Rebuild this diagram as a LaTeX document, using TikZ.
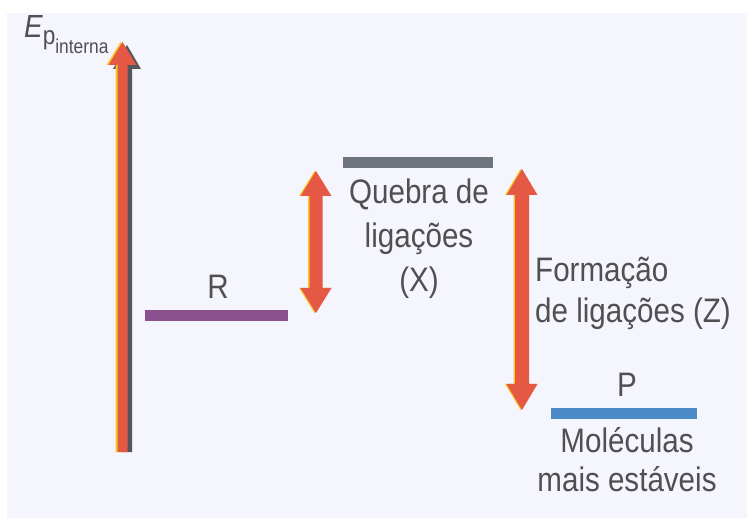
\documentclass[tikz,border=0pt]{standalone}
\usepackage{fontspec}
\setmainfont{Liberation Sans}[FakeStretch=0.87]
\definecolor{panel}{RGB}{245,245,253}
\definecolor{ared}{RGB}{228,88,68}
\definecolor{ayellow}{RGB}{246,200,40}
\definecolor{ashadow}{RGB}{85,85,90}
\definecolor{lvlR}{RGB}{140,80,142}
\definecolor{lvlX}{RGB}{110,116,126}
\definecolor{lvlP}{RGB}{75,140,200}
\definecolor{textgray}{RGB}{80,80,82}
% double vertical arrow: colour, x centre, y top tip, y bottom tip, half shaft, half head, head length
\newcommand\DArrow[7]{%
  \fill[#1] (#2,#3) -- ({#2+#6},{#3+#7}) -- ({#2+#5},{#3+#7}) -- ({#2+#5},{#4-#7})
    -- ({#2+#6},{#4-#7}) -- (#2,#4) -- ({#2-#6},{#4-#7}) -- ({#2-#5},{#4-#7})
    -- ({#2-#5},{#3+#7}) -- ({#2-#6},{#3+#7}) -- cycle;}
% upward arrow: colour, x centre, y tip, y bottom, half shaft, half head, head length
\newcommand\UArrow[7]{%
  \fill[#1] (#2,#3) -- ({#2+#6},{#3+#7}) -- ({#2+#5},{#3+#7}) -- ({#2+#5},#4)
    -- ({#2-#5},#4) -- ({#2-#5},{#3+#7}) -- ({#2-#6},{#3+#7}) -- cycle;}
\begin{document}
\begin{tikzpicture}[x=1pt,y=-1pt,
  txt/.style={inner sep=0pt, text=textgray, font=\fontsize{34}{40}\selectfont},
  level/.style={line width=11pt}]
\useasboundingbox (0,0) rectangle (747,518);
\fill[white] (0,0) rectangle (747,518);
\fill[panel] (7,13) rectangle (747,518);

% energy axis
\UArrow{ashadow}{127}{45}{452}{5}{14}{24}
\UArrow{ayellow}{120.5}{42}{452}{5}{14}{23}
\UArrow{ared}{122.5}{42}{452}{5}{14}{23}
\node[inner sep=0pt, anchor=base west, text=textgray] (ep) at (24,38)
  {\fontsize{32}{32}\selectfont\itshape E\upshape\raisebox{-7pt}{\fontsize{26}{26}\selectfont p}\raisebox{-16pt}{\fontsize{20}{20}\selectfont interna}};

% levels
\coordinate (R1) at (145,316); \coordinate (R2) at (288,316);
\draw[level, lvlR] (R1) -- (R2);
\coordinate (X1) at (343,163); \coordinate (X2) at (493,163);
\draw[level, lvlX] (X1) -- (X2);
\coordinate (P1) at (551,414); \coordinate (P2) at (697,414);
\draw[level, lvlP] (P1) -- (P2);

% double arrows
\DArrow{ayellow}{314.5}{171}{313}{6.5}{15.5}{25}
\DArrow{ared}{316}{171}{313}{6.5}{15.5}{25}
\DArrow{ayellow}{520.5}{169}{410}{7}{15.5}{26}
\DArrow{ared}{522}{169}{410}{7}{15.5}{26}

% labels
\node[txt, anchor=base] (lR) at (218,299) {R};
\node[txt, anchor=base] (lP) at (627,397) {P};
\node[txt, anchor=base] (q1) at (419,204) {Quebra de};
\node[txt, anchor=base] (q2) at (419,248) {ligações};
\node[txt, anchor=base] (q3) at (419,292) {(X)};
\node[txt, anchor=base west] (f1) at (535,282) {Formação};
\node[txt, anchor=base west] (f2) at (535,323) {de ligações (Z)};
\node[txt, anchor=base] (m1) at (627,452) {Moléculas};
\node[txt, anchor=base] (m2) at (627,491) {mais estáveis};
\end{tikzpicture}
\end{document}
